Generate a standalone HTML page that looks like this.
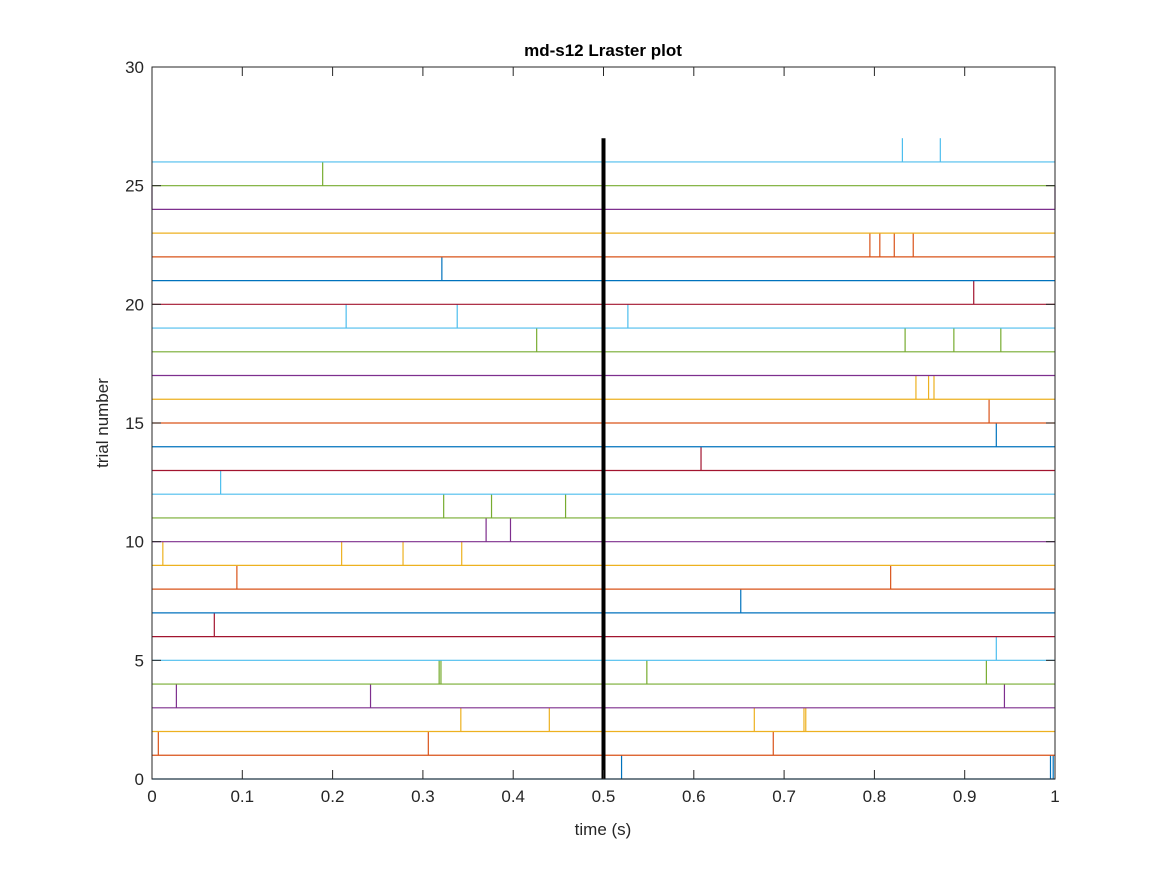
<!DOCTYPE html>
<html><head><meta charset="utf-8"><style>
body{margin:0;background:#fff;}
svg text{font-family:"Liberation Sans",Helvetica,sans-serif;}
</style></head><body>
<svg id="chart" width="1167" height="875" xmlns="http://www.w3.org/2000/svg">
<rect width="1167" height="875" fill="#fff"/>
<g id="plot"></g>
<text x="603" y="56" text-anchor="middle" font-size="17" font-weight="bold" fill="#000">md-s12 Lraster plot</text>
<text x="603" y="835" text-anchor="middle" font-size="17" fill="#262626">time (s)</text>
<text transform="translate(108,423) rotate(-90)" text-anchor="middle" font-size="17" fill="#262626">trial number</text>
</svg>
<script>
const xTicks=[0,0.1,0.2,0.3,0.4,0.5,0.6,0.7,0.8,0.9,1];
const xTickLabels=["0","0.1","0.2","0.3","0.4","0.5","0.6","0.7","0.8","0.9","1"];
const yTicks=[0,5,10,15,20,25,30];
const trials=[0,1,2,3,4,5,6,7,8,9,10,11,12,13,14,15,16,17,18,19,20,21,22,23,24,25,26];
const spikes=[
[0.52,0.995,0.998],
[0.007,0.306,0.688],
[0.342,0.44,0.667,0.722,0.724],
[0.027,0.242,0.944],
[0.318,0.32,0.548,0.924],
[0.935],
[0.069],
[0.652],
[0.094,0.818],
[0.012,0.21,0.278,0.343],
[0.37,0.397],
[0.323,0.376,0.458],
[0.076],
[0.608],
[0.935],
[0.927],
[0.846,0.86,0.866],
[],
[0.426,0.834,0.888,0.94],
[0.215,0.338,0.527],
[0.91],
[0.321],
[0.795,0.806,0.822,0.843],
[],
[0.0,1.0],
[0.189],
[0.831,0.873]
];
const eventTime=0.5, eventTop=27;
const colors=["#0072BD","#D95319","#EDB120","#7E2F8E","#77AC30","#4DBEEE","#A2142F"];
const X0=152,X1=1055,Y0=779,Y1=67;
const sx=v=>X0+(X1-X0)*v;
const sy=v=>Y0-(Y0-Y1)*v/30;
const g=document.getElementById('plot');
const NS="http://www.w3.org/2000/svg";
function mk(t,a){const e=document.createElementNS(NS,t);for(const k in a)e.setAttribute(k,a[k]);g.appendChild(e);return e;}
trials.forEach((t,i)=>{
  const c=colors[i%7];
  const l=mk('line',{x1:sx(0),x2:sx(1),y1:sy(t),y2:sy(t),stroke:c,'stroke-width':1.2});
  
  
  spikes[i].forEach((s,j)=>{
    const e=mk('line',{x1:sx(s),x2:sx(s),y1:sy(t),y2:sy(t+1),stroke:c,'stroke-width':1.2});
    
    
  });
});
const ev=mk('line',{x1:sx(eventTime),x2:sx(eventTime),y1:sy(0),y2:sy(eventTop),stroke:'#000','stroke-width':4});


const box=mk('rect',{x:X0,y:Y1,width:X1-X0,height:Y0-Y1,fill:'none',stroke:'#262626','stroke-width':1});


xTicks.forEach((v,i)=>{
  mk('line',{x1:sx(v),x2:sx(v),y1:Y0,y2:Y0-9,stroke:'#262626'});
  mk('line',{x1:sx(v),x2:sx(v),y1:Y1,y2:Y1+9,stroke:'#262626'});
  const t=mk('text',{x:sx(v),y:Y0+23,'text-anchor':'middle','font-size':17,fill:'#262626'});
  t.textContent=xTickLabels[i];
  
  
});
yTicks.forEach(v=>{
  mk('line',{x1:X0,x2:X0+9,y1:sy(v),y2:sy(v),stroke:'#262626'});
  mk('line',{x1:X1,x2:X1-9,y1:sy(v),y2:sy(v),stroke:'#262626'});
  const t=mk('text',{x:X0-8,y:sy(v)+6,'text-anchor':'end','font-size':17,fill:'#262626'});
  t.textContent=String(v);
  
  
});
</script>
</body></html>
